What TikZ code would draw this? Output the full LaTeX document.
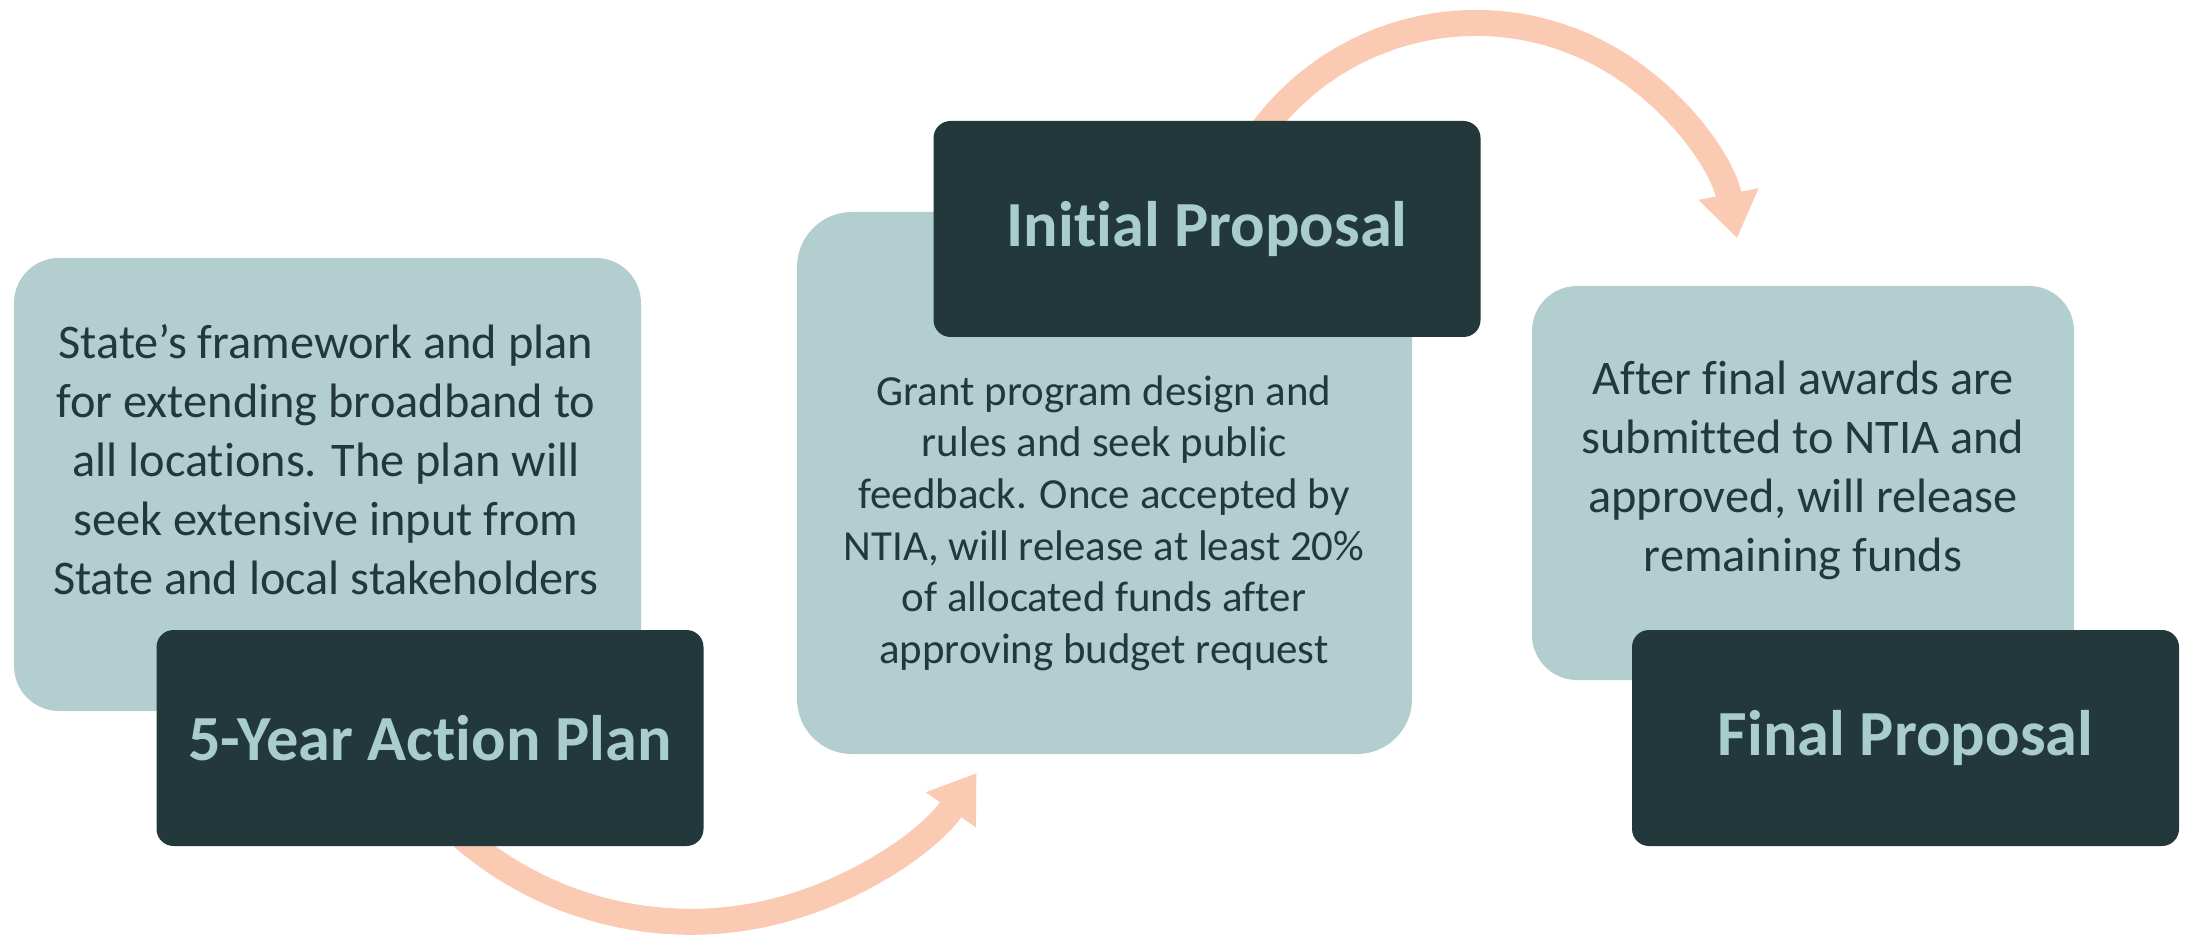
\documentclass[tikz,border=0pt]{standalone}
\usepackage{fontspec}
\setmainfont{Carlito}[Ligatures=NoCommon]
\usetikzlibrary{arrows.meta}

\definecolor{boxfill}{HTML}{B3CECE}
\definecolor{ink}{HTML}{22383B}
\definecolor{headtext}{HTML}{A9CDCF}
\definecolor{peach}{HTML}{FACAB2}

\tikzset{
  panelbox/.style={fill=boxfill, rounded corners=0.45cm, inner sep=0pt},
  headbox/.style={fill=ink, rounded corners=0.17cm, minimum width=5.47cm, minimum height=2.16cm,
    text=headtext, font=\fontsize{18.3}{22}\selectfont\bfseries},
  bodytext/.style={text=ink, align=center, font=\fontsize{13.75}{16.8}\selectfont},
  flow/.style={draw=peach, line width=0.26cm, -{Triangle[length=0.45cm, width=0.58cm]}}
}

\begin{document}
\begin{tikzpicture}
		\useasboundingbox (0,0) rectangle (21.86,9.35);
		% arcs between the steps
		\coordinate (lowc) at (6.907,3.622);
		\coordinate (highc) at (14.76,6.46);
		\def\rlow{3.49};
		\def\rhigh{2.66};
		\draw[flow] (lowc) ++(-135:\rlow) arc[start angle=-135, end angle=-35, radius=\rlow];
		\draw[flow] (highc) ++(150:\rhigh) arc[start angle=150, end angle=11, radius=\rhigh];
		% light panels
		\node[panelbox, minimum width=6.27cm, minimum height=4.53cm] (planbox) at (3.275,4.505) {};
		\node[panelbox, rounded corners=0.55cm, minimum width=6.15cm, minimum height=5.42cm] (initbox) at (11.045,4.52) {};
		\node[panelbox, minimum width=5.42cm, minimum height=3.94cm] (finalbox) at (18.03,4.52) {};
		\node[bodytext] (plantext) at (3.26,4.75) {State’s framework and plan\\for extending broadband to\\all locations. The plan will\\seek extensive input from\\State and local stakeholders};
		\node[bodytext, font=\fontsize{12.2}{14.7}\selectfont] (inittext) at (11.04,4.12) {Grant program design and\\rules and seek public\\feedback. Once accepted by\\NTIA, will release at least 20\%\\of allocated funds after\\approving budget request};
		\node[bodytext] (finaltext) at (18.03,4.65) {After final awards are\\submitted to NTIA and\\approved, will release\\remaining funds};
		% dark headings
		\node[headbox] (planhead) at (4.30,1.97) {5-Year Action Plan};
		\node[headbox] (inithead) at (12.07,7.06) {Initial Proposal};
		\node[headbox] (finalhead) at (19.055,1.97) {Final Proposal};
\end{tikzpicture}
\end{document}
